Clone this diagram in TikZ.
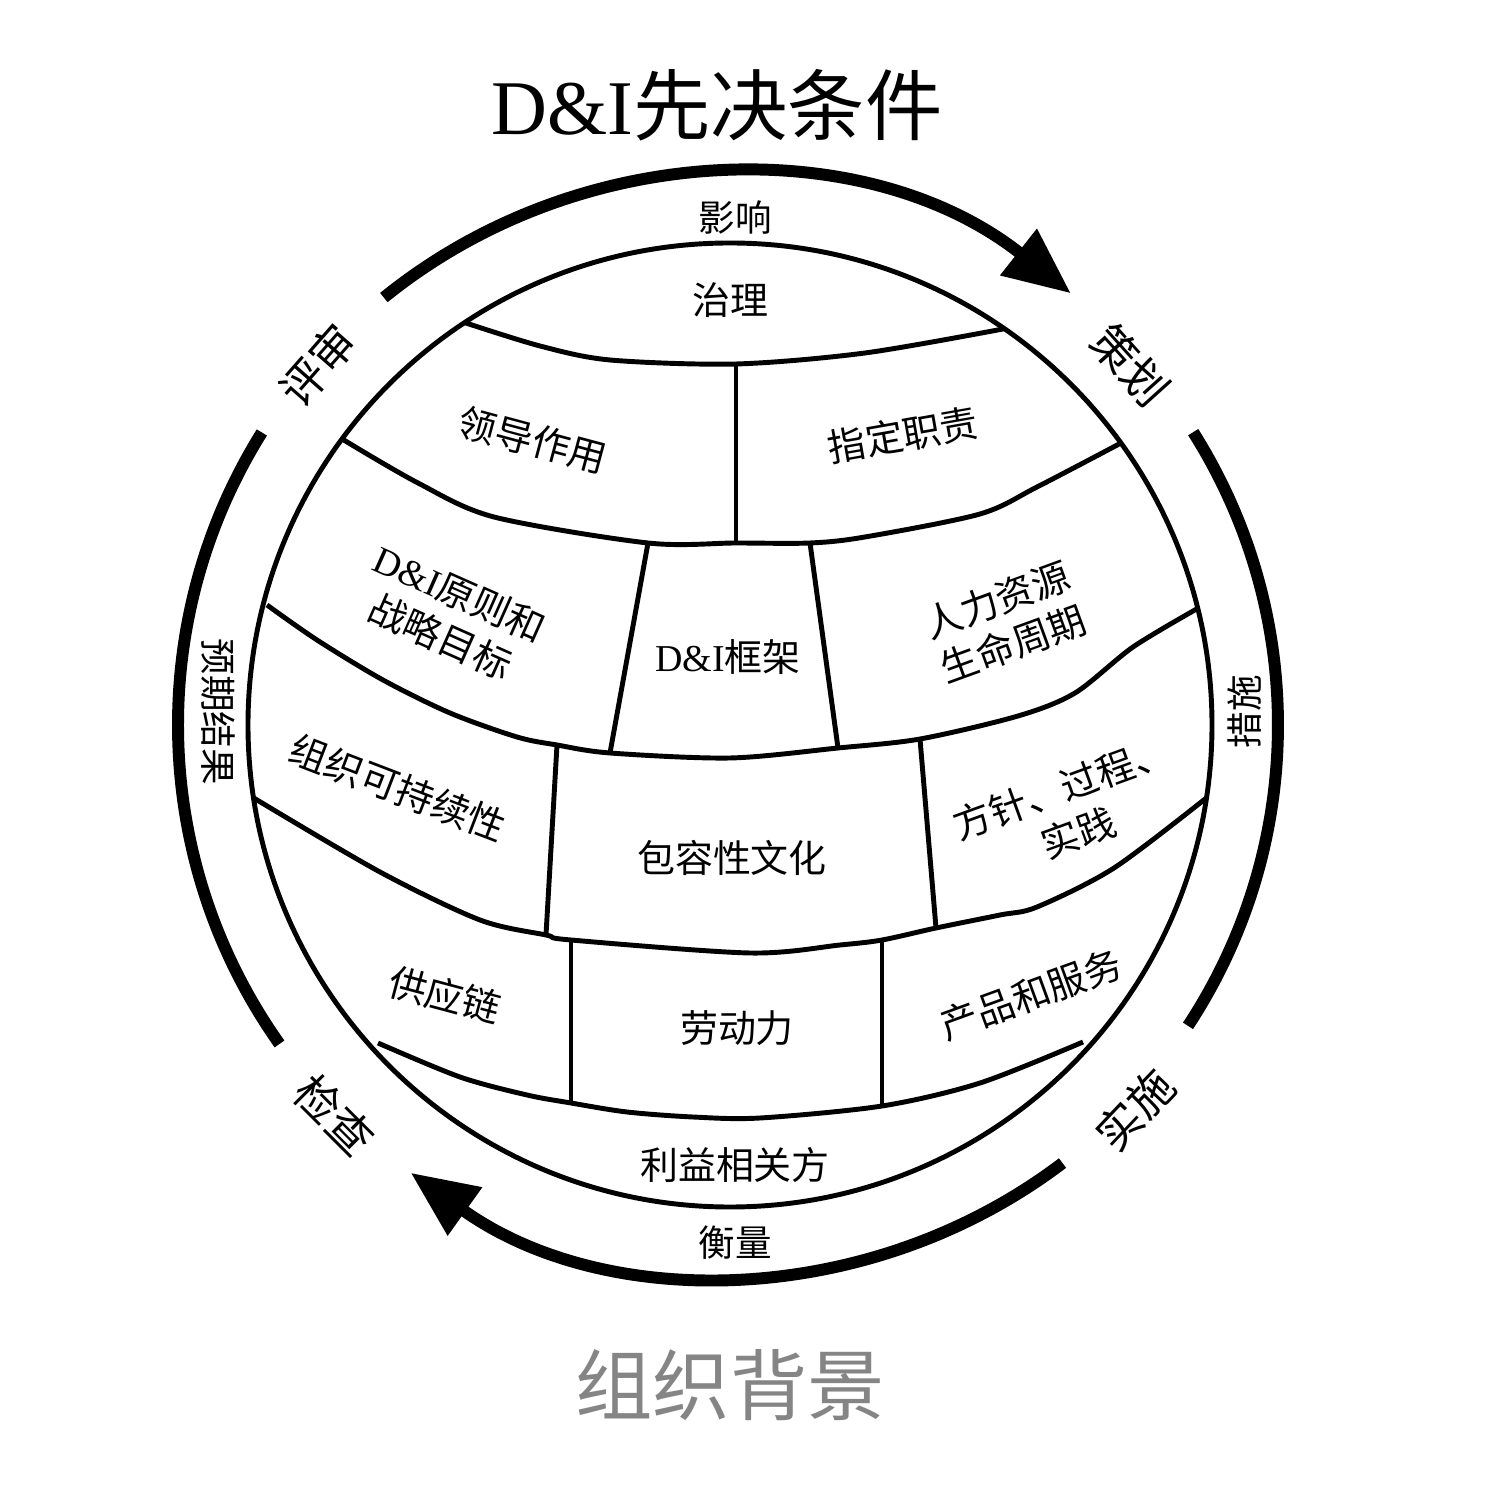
\documentclass[tikz,border=0pt]{standalone}
\usepackage{fontspec}
\setmainfont{Liberation Serif}
\newfontfamily\cjk{Noto Sans CJK SC}
\usepackage{tikz}
\usetikzlibrary{arrows.meta}

\begin{document}
\begin{tikzpicture}[x=0.01cm, y=0.01cm,
    ring/.style={line width=1.4pt, line join=round},
    cycle/.style={line width=3.4pt},
    cell/.style={font=\cjk\fontsize{10.8}{13.5}\selectfont, align=center, inner sep=0pt},
    phase/.style={font=\cjk\fontsize{12.8}{15}\selectfont, inner sep=0pt},
    flow/.style={font=\cjk\fontsize{10.4}{13}\selectfont, inner sep=0pt},
    head/.style={font=\cjk\fontsize{22}{26}\selectfont, inner sep=0pt}]
    \useasboundingbox (-730,-779) rectangle (774,725);

    % 球体外轮廓, 圆心在 (0,0)
    \draw[ring] (0,0) circle (482);

    % 横向分隔线 (从上到下)
    \draw[ring] plot[smooth] coordinates {(123.4:482) (-190,379) (-120,365) (6,361) (135,372) (55.3:482)};
    \draw[ring] plot[smooth] coordinates {(143.6:482) (-312,242) (-236,208) (-82,182) (6,182) (80,182) (135,188) (250,211) (307,238) (35.8:482)};
    \draw[ring] plot[smooth] coordinates {(-463,120) (-413,85) (-347,45) (-280,12) (-213,-12) (-173,-20) (-120,-28) (0,-33) (108,-23) (190,-14) (288,9) (345,32) (403,78) (14:482)};
    \draw[ring] plot[smooth] coordinates {(188.7:482) (-350,-147) (-250,-195) (-184,-210) (-159,-215) (20,-228) (110,-220) (152,-215) (206,-203) (270,-190) (307,-182) (384,-143) (-8.7:482)};
    \draw[ring] plot[smooth] coordinates {(-352,-318) (-270,-352) (-203,-370) (-159,-378) (-103,-387) (-37,-392) (30,-393) (152,-381) (250,-358) (353,-317)};

    % 竖向分隔线
    \draw[ring] (6,361) -- (6,182);
    \draw[ring] (-82,182) -- (-120,-28);
    \draw[ring] (80,182) -- (108,-23);
    \draw[ring] (-173,-20) -- (-184,-210);
    \draw[ring] (190,-14) -- (206,-203);
    \draw[ring] (-159,-215) -- (-159,-378);
    \draw[ring] (152,-215) -- (152,-381);

    % 外圈循环箭头
    \draw[cycle, -{Triangle[length=19pt, width=16pt]}] (129:550) arc[start angle=129, end angle=51.7, radius=550];
    \draw[cycle] (32.3:548) arc[start angle=32.3, end angle=-33.3, radius=548];
    \draw[cycle, -{Triangle[length=19pt, width=16pt]}] (-52.8:550) arc[start angle=-52.8, end angle=-125.5, radius=550];
    \draw[cycle] (148:552) arc[start angle=148, end angle=215.3, radius=552];

    % 球体内各块的文字
    \node[cell] (gov) at (0,425) {治理};
    \node[cell, rotate=-15] (lead) at (-197,285) {领导作用};
    \node[cell, rotate=10] (duty) at (173,290) {指定职责};
    \node[cell, rotate=-24] (strat) at (-280,110) {{\rmfamily D\&I}原则和\\战略目标};
    \node[cell] (frame) at (-2,68) {{\rmfamily D\&I}框架};
    \node[cell, rotate=20] (hr) at (275,103) {人力资源\\生命周期};
    \node[cell, rotate=-21] (sustain) at (-332,-63) {组织可持续性};
    \node[cell] (culture) at (2,-133) {包容性文化};
    \node[cell, rotate=20] (policy) at (340,-85) {方针、过程、\\实践};
    \node[cell, rotate=-15] (supply) at (-285,-270) {供应链};
    \node[cell] (labour) at (7,-303) {劳动力};
    \node[cell, rotate=20] (product) at (301,-270) {产品和服务};
    \node[cell] (stake) at (5,-440) {利益相关方};

    % 外圈文字
    \node[flow] (influence) at (5,507) {影响};
    \node[flow] (measure) at (5,-518) {衡量};
    \node[flow, rotate=-90] (outcome) at (-512,13) {预期结果};
    \node[flow, rotate=90] (action) at (515,13) {措施};
    \node[phase, rotate=48.7] (review) at (-412,360) {评审};
    \node[phase, rotate=-48] (plan) at (400,360) {策划};
    \node[phase, rotate=46.6] (act) at (405,-385) {实施};
    \node[phase, rotate=-45] (check) at (-395,-390) {检查};

    % 标题
    \node[head] (title) at (-13,620) {{\rmfamily D\&I}先决条件};
    \node[head, text=black!48] (context) at (0,-660) {组织背景};
\end{tikzpicture}
\end{document}
